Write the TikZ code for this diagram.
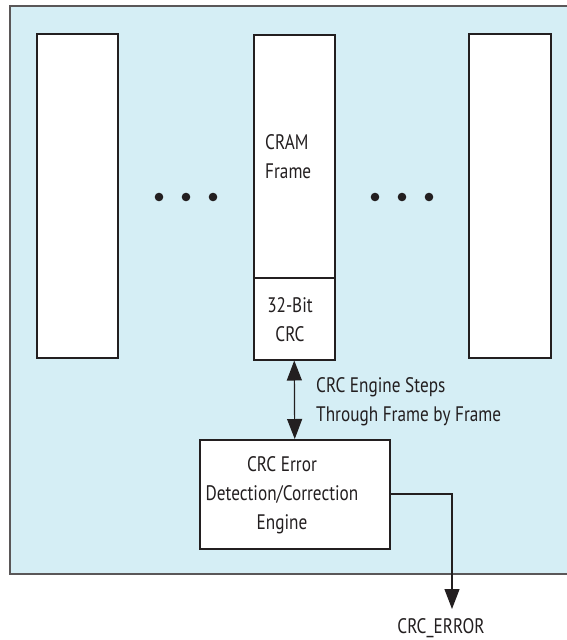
\documentclass[tikz,border=0pt]{standalone}
\usepackage{fontspec}
\setmainfont[FakeStretch=0.82]{PT Sans}
\usetikzlibrary{arrows.meta}
\definecolor{bgblue}{HTML}{D5EEF5}
\definecolor{edge}{HTML}{231F20}
\tikzset{
  colbox/.style={draw=edge, fill=white, line width=1.5pt},
  lbl/.style={font=\fontsize{21}{29}\selectfont, align=center, text=edge, inner sep=0pt},
  conn/.style={draw=edge, line width=1.2pt},
  tip/.style={-{Triangle[width=15pt,length=20pt]}}
}
\begin{document}
\begin{tikzpicture}[x=1pt,y=-1pt]
\useasboundingbox (0,0) rectangle (567,640);
% outer panel
\fill[bgblue] (10,6) rectangle (580,574);
\draw[draw=edge!75, line width=1.5pt] (580,6) -- (10,6) -- (10,574) -- (580,574);
% columns
\draw[colbox] (37,34) rectangle (118,358);
\draw[colbox] (469,34) rectangle (551,358);
\node[colbox, minimum width=81pt, minimum height=243pt, anchor=north west] (frame) at (253,34) {};
\node[colbox, minimum width=81pt, minimum height=82pt, anchor=north west] (crc) at (253,277) {};
\node[lbl, align=left, anchor=west] (frametxt) at (265,157) {CRAM\\Frame};
\node[lbl] (crctxt) at (290,320) {32-Bit\\CRC};
% dots
\foreach \x/\n in {159/d1,186/d2,213/d3,375/d4,402/d5,429/d6}
  \fill[edge] (\x,197) circle (4.3pt) coordinate (\n);
% engine
\node[colbox, minimum width=190pt, minimum height=109pt, anchor=north west] (engine) at (199,439) {};
\node[lbl] (enginetxt) at (282,495) {CRC Error\\Detection/Correction\\Engine};
% bidirectional connector
\draw[conn, {Triangle[width=15pt,length=20pt]}-{Triangle[width=15pt,length=20pt]}] (crc.south) -- (engine.north);
\node[lbl, anchor=west, align=left] (steps) at (316,402) {CRC Engine Steps\\Through Frame by Frame};
% output
\coordinate (errtip) at (452,609);
\draw[conn, tip] (engine.east |- 0,494) -| (errtip);
\node[lbl] (err) at (441,628) {CRC\_ERROR};
\end{tikzpicture}
\end{document}
